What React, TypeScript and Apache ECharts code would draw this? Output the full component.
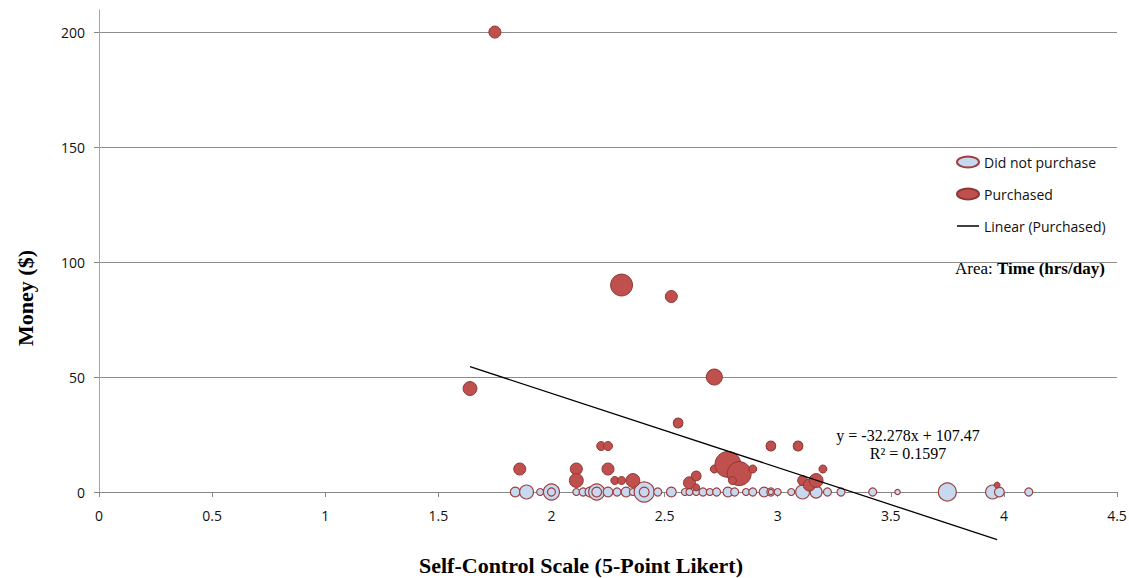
import React, { useEffect, useRef } from "react";
import * as echarts from "echarts";

// ---- Data ----
const yTickValues = [0, 50, 100, 150, 200];

// Did not purchase: [self-control, money, time hrs/day]
const notPurchasedX = [1.84, 1.89, 1.95, 2.0, 2.0, 2.11, 2.14, 2.17, 2.2, 2.2, 2.25, 2.29, 2.33, 2.36, 2.41, 2.41, 2.47, 2.53, 2.59, 2.61, 2.64, 2.67, 2.7, 2.73, 2.78, 2.81, 2.86, 2.89, 2.94, 2.97, 2.97, 3.0, 3.06, 3.11, 3.17, 3.22, 3.28, 3.42, 3.53, 3.75, 3.95, 3.98, 4.11];
const notPurchasedMoney = notPurchasedX.map(() => 0);
const notPurchasedTime = [1.5, 3, 0.75, 4, 1, 0.75, 1, 1.5, 4, 1.5, 1.5, 1, 1.5, 0.75, 6.25, 1.5, 1, 1.5, 0.75, 0.75, 0.75, 1, 0.75, 1, 1.5, 1, 0.75, 1, 1.5, 1, 0.4, 0.75, 0.75, 3, 2.25, 1, 1, 1, 0.45, 5, 3, 1.5, 1];

// Purchased
const purchasedX = [1.75, 2.31, 2.53, 1.64, 2.72, 2.56, 2.22, 2.25, 2.97, 3.09, 1.86, 2.11, 2.25, 2.11, 2.28, 2.31, 2.36, 2.61, 2.64, 2.64, 2.72, 2.78, 2.83, 2.89, 2.8, 3.11, 3.14, 3.17, 3.2, 3.97];
const purchasedMoney = [200, 90, 85, 45, 50, 30, 20, 20, 20, 20, 10, 10, 10, 5, 5, 5, 5, 4, 7, 2, 10, 12, 8, 10, 5, 5, 3, 5, 10, 3];
const purchasedTime = [2.25, 7.5, 2.25, 3, 4, 1.5, 1.25, 1.25, 1.5, 1.5, 2.25, 2.25, 2.25, 3, 1, 1, 3, 2.25, 1.5, 0.75, 1, 10.5, 9, 1, 1, 1.5, 2.25, 3, 1, 0.56];

// Linear trendline (Purchased): y = -32.278x + 107.47
const trendSlope = -32.278;
const trendIntercept = 107.47;
const trendXRange = [1.64, 3.97];

const serif = "'Liberation Serif', 'Times New Roman', serif";
const sans = "'Open Sans', 'Liberation Sans', Arial, sans-serif";

export default function App() {
  const ref = useRef<HTMLDivElement>(null);
  useEffect(() => {
    if (!ref.current) return;
    const chart = echarts.init(ref.current, null, { renderer: "svg" });
    const np = notPurchasedX.map((x, i) => [x, notPurchasedMoney[i], notPurchasedTime[i]]);
    const pu = purchasedX.map((x, i) => [x, purchasedMoney[i], purchasedTime[i]]);
    const trend = trendXRange.map((x) => [x, trendSlope * x + trendIntercept]);
    const size = (v: number[]) => 8 * Math.sqrt(v[2]);
    chart.setOption({
      animation: false,
      grid: { left: 99, right: 12, top: 10, bottom: 86, outerBoundsMode: "none", containLabel: false },
      xAxis: {
        type: "value",
        min: 0,
        max: 4.5,
        interval: 0.5,
        axisLine: { onZero: false, lineStyle: { color: "#868686", width: 1 } },
        axisTick: { show: true, length: 5, lineStyle: { color: "#868686" } },
        axisLabel: { margin: 16, color: "#111", fontSize: 14, fontFamily: sans },
        splitLine: { show: false },
      },
      yAxis: {
        type: "value",
        min: 0,
        max: 209.6,
        axisLine: { show: true, lineStyle: { color: "#a6a6a6", width: 1 } },
        axisTick: { show: true, length: 5, customValues: yTickValues, lineStyle: { color: "#868686" } },
        axisLabel: { customValues: yTickValues, margin: 14, color: "#111", fontSize: 14, fontFamily: sans },
        splitLine: { show: true, lineStyle: { color: "#8c8c8c", width: 1 } },
      },
      legend: {
        orient: "vertical",
        left: 951,
        top: 150,
        itemWidth: 22,
        itemHeight: 11,
        itemGap: 18,
        selectedMode: false,
        textStyle: { fontFamily: sans, fontSize: 14, color: "#111" },
        data: [
          { name: "Did not purchase", icon: "path://M0,5a10,5 0 1,0 20,0a10,5 0 1,0 -20,0z" },
          { name: "Purchased", icon: "path://M0,5a10,5 0 1,0 20,0a10,5 0 1,0 -20,0z" },
          { name: "Linear (Purchased)", icon: "path://M0,0h44v3h-44z", itemStyle: { color: "#000", borderWidth: 0 } },
        ],
      },
      graphic: [
        {
          type: "text",
          left: 955,
          top: 260,
          style: {
            text: "{a|Area: }{b|Time (hrs/day)}",
            rich: {
              a: { fontFamily: serif, fontSize: 17, fill: "#000" },
              b: { fontFamily: serif, fontSize: 17, fontWeight: "bold", fill: "#000" },
            },
          },
        },
        {
          type: "text",
          x: 908,
          y: 435,
          style: { text: "y = -32.278x + 107.47", fontFamily: serif, fontSize: 16, fill: "#000", textAlign: "center", textVerticalAlign: "middle" },
        },
        {
          type: "text",
          x: 908,
          y: 453,
          style: { text: "R² = 0.1597", fontFamily: serif, fontSize: 16, fill: "#000", textAlign: "center", textVerticalAlign: "middle" },
        },
        {
          type: "text",
          x: 581,
          y: 565,
          style: { text: "Self-Control Scale (5-Point Likert)", fontFamily: serif, fontSize: 22, fontWeight: "bold", fill: "#000", textAlign: "center", textVerticalAlign: "middle" },
        },
        {
          type: "text",
          x: 25,
          y: 298,
          rotation: Math.PI / 2,
          style: { text: "Money ($)", fontFamily: serif, fontSize: 22, fontWeight: "bold", fill: "#000", textAlign: "center", textVerticalAlign: "middle" },
        },
      ],
      series: [
        {
          name: "Did not purchase",
          type: "scatter",
          data: np,
          symbolSize: size,
          clip: false,
          itemStyle: { color: "#c6d9f1", borderColor: "#a0403e", borderWidth: 1.2, opacity: 1 },
          z: 2,
        },
        {
          name: "Purchased",
          type: "scatter",
          data: pu,
          symbolSize: size,
          clip: false,
          itemStyle: { color: "#c0504d", borderColor: "#8c3836", borderWidth: 1, opacity: 1 },
          z: 3,
        },
        {
          name: "Linear (Purchased)",
          type: "line",
          data: trend,
          symbol: "none",
          clip: false,
          lineStyle: { color: "#000", width: 1.3 },
          itemStyle: { color: "#000" },
          z: 4,
        },
      ],
    });
    return () => chart.dispose();
  }, []);
  return <div ref={ref} style={{ width: 1129, height: 578, position: "absolute", left: 0, top: 0 }} />;
}
